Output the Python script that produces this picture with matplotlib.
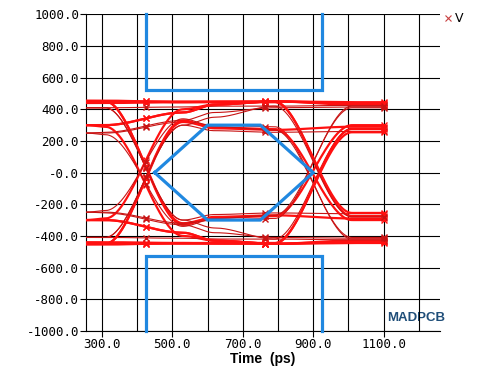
"""
Eye diagram recreation: red signal traces, blue eye mask.
"""
import numpy as np
import matplotlib
matplotlib.use('Agg')
import matplotlib.pyplot as plt
from matplotlib.lines import Line2D
from matplotlib.ticker import MultipleLocator

RED = '#FF1010'
DARK_RED = '#C81414'
MASK_BLUE = '#2088E0'
BRAND_BLUE = '#1F4E79'

# === Data ===
# knot times (ps) of every trace, and trace levels (mV) at those knots
knot_t = [257, 310, 530, 620, 790, 1010, 1100]

traces_hi = [
    [450, 450, 450, 450, 450, 440, 440],
    [440, 440, 445, 448, 450, 430, 430],
    [410, 410, 415, 420, 420, 425, 425],
    [300, 300, 380, 430, 450, 445, 445],
    [250, 255, 330, 380, 410, 415, 415],
    [450, 450, -330, -280, -270, -290, -290],
    [410, 410, -300, -265, -255, -260, -260],
    [300, 290, -400, -430, -450, -435, -435],
    [450, 450, -320, -285, -275, 300, 300],
    [250, 240, -340, -290, -270, 410, 410],
    [455, 455, 445, 445, 445, -255, -255],
    [300, 300, 380, 430, 450, -275, -275],
    [410, 410, -300, -350, -420, 280, 280],
    [250, 250, 320, 300, 290, -420, -420],
]
thick_hi = [True, True, False, True, False, True, False, True, True, False, True, True, False, False]

# mask outline (ps, mV)
mask_top_x = [425, 425, 925, 925]
mask_top_y = [1000, 525, 525, 1000]
mask_bot_x = [425, 425, 925, 925]
mask_bot_y = [-1000, -525, -525, -1000]
eye_x = [450, 600, 750, 900, 750, 600, 450]
eye_y = [0, 300, 300, 0, -300, -300, 0]

marker_t = [425, 762, 1100]

x_ticks = [300, 500, 700, 900, 1100]
x_labels = ['300.0', '500.0', '700.0', '900.0', '1100.0']
y_ticks = [-1000, -800, -600, -400, -200, 0, 200, 400, 600, 800, 1000]
y_labels = ['-1000.0', '-800.0', '-600.0', '-400.0', '-200.0', '-0.0',
            '200.0', '400.0', '600.0', '800.0', '1000.0']


def trace_curve(levels, t):
    """smooth steps between consecutive knots"""
    kt = np.asarray(knot_t, float)
    kv = np.asarray(levels, float)
    idx = np.clip(np.searchsorted(kt, t, side='right') - 1, 0, len(kt) - 2)
    f = (t - kt[idx]) / (kt[idx + 1] - kt[idx])
    f = np.clip(f, 0, 1)
    s = f * f * (3 - 2 * f)
    return kv[idx] + (kv[idx + 1] - kv[idx]) * s


fig = plt.figure(figsize=(5.0, 3.7), dpi=100, facecolor='white')
ax = fig.add_axes([0.172, 0.106, 0.708, 0.855])

t = np.linspace(knot_t[0], knot_t[-1], 500)
tm = np.asarray(marker_t, float)
for sign in (1, -1):
    for levels, thick in zip(traces_hi, thick_hi):
        lv = [sign * v for v in levels]
        col = RED if thick else DARK_RED
        lw = 1.6 if thick else 0.8
        ax.plot(t, trace_curve(lv, t), color=col, lw=lw, zorder=3)
        ax.plot(tm, trace_curve(lv, tm), ls='none', marker='x', ms=4.5,
                mew=1.0, color=col, zorder=3)

# mask
for mx, my in ((mask_top_x, mask_top_y), (mask_bot_x, mask_bot_y), (eye_x, eye_y)):
    ax.plot(mx, my, color=MASK_BLUE, lw=2.3, zorder=4, solid_joinstyle='miter',
            clip_on=False)

ax.text(1111, -920, 'MADPCB', fontsize=9.5, fontweight='bold', color=BRAND_BLUE,
        family='Liberation Sans', ha='left', va='center', zorder=1, clip_on=False)

ax.set_xlim(255, 1260)
ax.set_ylim(-1000, 1000)
ax.set_xticks(x_ticks)
ax.set_xticklabels(x_labels)
ax.set_yticks(y_ticks)
ax.set_yticklabels(y_labels)
ax.xaxis.set_minor_locator(MultipleLocator(100))
ax.tick_params(which='minor', length=0)
ax.tick_params(which='major', length=4, width=0.8, color='black', direction='out',
               labelsize=9, pad=1)
for lab in ax.get_xticklabels() + ax.get_yticklabels():
    lab.set_family('DejaVu Sans Mono')
ax.grid(which='both', axis='x', color='black', lw=0.8, zorder=2)
ax.grid(which='major', axis='y', color='black', lw=0.8, zorder=2)
ax.set_axisbelow(False)
for sp in ax.spines.values():
    sp.set_visible(False)
ax.spines['left'].set_visible(True)
ax.spines['bottom'].set_visible(True)
ax.spines['left'].set_linewidth(0.8)
ax.spines['bottom'].set_linewidth(0.8)

ax.set_xlabel('Time  (ps)', fontsize=10, fontweight='bold', labelpad=1,
              family='Liberation Sans')

handle = Line2D([], [], ls='none', marker='x', ms=4, mew=0.8, color='#C84040')
ax.legend([handle], ['V'], loc='upper left', bbox_to_anchor=(0.99, 1.03),
          frameon=False, fontsize=9, handlelength=0.6, handletextpad=0.3,
          borderaxespad=0.2)

fig.savefig('out.png', dpi=100, facecolor='white')
